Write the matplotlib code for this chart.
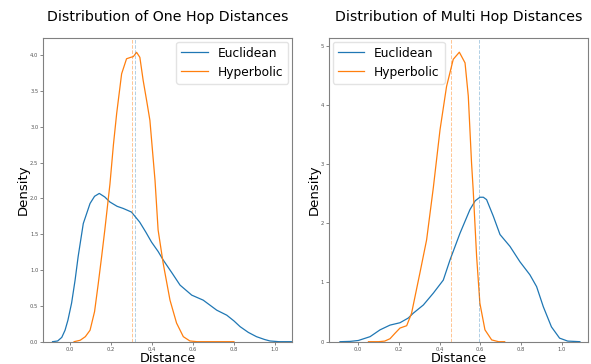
import matplotlib
matplotlib.use("Agg")
import matplotlib.pyplot as plt

# ---- One hop distances (left panel) ----
one_euc_x = [-0.085, -0.06, -0.04, -0.024, -0.01, 0.008, 0.025, 0.04, 0.065, 0.098, 0.12, 0.143,
             0.17, 0.195, 0.23, 0.26, 0.30, 0.34, 0.37, 0.398, 0.43, 0.455, 0.50, 0.537, 0.594,
             0.65, 0.716, 0.765, 0.80, 0.83, 0.87, 0.91, 0.95, 0.976, 1.02, 1.08]
one_euc_y = [0.0, 0.01, 0.06, 0.16, 0.30, 0.54, 0.86, 1.19, 1.65, 1.93, 2.03, 2.07,
             2.02, 1.95, 1.89, 1.86, 1.81, 1.67, 1.53, 1.39, 1.26, 1.14, 0.95, 0.79, 0.65,
             0.58, 0.44, 0.37, 0.29, 0.21, 0.13, 0.07, 0.03, 0.01, 0.0, 0.0]
one_hyp_x = [0.02, 0.05, 0.075, 0.098, 0.12, 0.138, 0.155, 0.17, 0.195, 0.212, 0.228, 0.252, 0.276,
             0.296, 0.309, 0.325, 0.341, 0.357, 0.375, 0.39, 0.415, 0.43, 0.455, 0.488, 0.52,
             0.553, 0.585, 0.62, 0.70, 0.80]
one_hyp_y = [0.0, 0.02, 0.07, 0.16, 0.42, 0.81, 1.20, 1.56, 2.20, 2.75, 3.19, 3.74, 3.95,
             3.97, 3.98, 4.04, 3.97, 3.65, 3.35, 3.09, 2.25, 1.56, 1.09, 0.58, 0.26,
             0.07, 0.01, 0.0, 0.0, 0.0]
one_means = [0.318, 0.304]  # Euclidean, Hyperbolic

# ---- Multi hop distances (right panel) ----
multi_euc_x = [-0.09, -0.04, 0.0, 0.058, 0.107, 0.156, 0.205, 0.246, 0.27, 0.32, 0.369, 0.418,
               0.451, 0.50, 0.549, 0.575, 0.598, 0.615, 0.631, 0.664, 0.697, 0.746, 0.795,
               0.844, 0.877, 0.91, 0.95, 0.99, 1.03, 1.09]
multi_euc_y = [0.0, 0.005, 0.02, 0.085, 0.20, 0.28, 0.32, 0.40, 0.48, 0.62, 0.82, 1.04,
               1.38, 1.83, 2.23, 2.38, 2.44, 2.44, 2.40, 2.12, 1.81, 1.61, 1.35,
               1.13, 0.93, 0.59, 0.25, 0.06, 0.01, 0.0]
multi_hyp_x = [0.05, 0.10, 0.13, 0.156, 0.18, 0.205, 0.238, 0.262, 0.303, 0.336, 0.369, 0.402,
               0.434, 0.467, 0.497, 0.525, 0.541, 0.557, 0.565, 0.582, 0.598, 0.623, 0.656,
               0.69, 0.72]
multi_hyp_y = [0.0, 0.0, 0.01, 0.05, 0.14, 0.23, 0.27, 0.48, 1.16, 1.72, 2.60, 3.58,
               4.31, 4.77, 4.89, 4.71, 4.15, 3.02, 2.57, 1.44, 0.65, 0.20, 0.03,
               0.0, 0.0]
multi_means = [0.595, 0.454]  # Euclidean, Hyperbolic

series_labels = ["Euclidean", "Hyperbolic"]
titles = ["Distribution of One Hop Distances", "Distribution of Multi Hop Distances"]
x_ticks = [0.0, 0.2, 0.4, 0.6, 0.8, 1.0]
left_yticks = [0.0, 0.5, 1.0, 1.5, 2.0, 2.5, 3.0, 3.5, 4.0]
right_yticks = [0, 1, 2, 3, 4, 5]

BLUE = "#1f77b4"
ORANGE = "#ff7f0e"

fig = plt.figure(figsize=(5.91, 3.64), dpi=100)
ax1 = fig.add_axes([0.0733, 0.0613, 0.4207, 0.8343])
ax2 = fig.add_axes([0.5567, 0.0613, 0.4383, 0.8343])

panels = [
    (ax1, one_euc_x, one_euc_y, one_hyp_x, one_hyp_y, one_means, (-0.13, 1.083), (0, 4.24),
     left_yticks, "upper right", titles[0]),
    (ax2, multi_euc_x, multi_euc_y, multi_hyp_x, multi_hyp_y, multi_means, (-0.144, 1.13), (0, 5.13),
     right_yticks, "upper left", titles[1]),
]

for ax, ex, ey, hx, hy, means, xl, yl, yt, loc, title in panels:
    ax.plot(ex, ey, color=BLUE, lw=0.9, label=series_labels[0])
    ax.plot(hx, hy, color=ORANGE, lw=0.9, label=series_labels[1])
    ax.axvline(means[0], color=BLUE, ls="--", lw=0.7, alpha=0.35)
    ax.axvline(means[1], color=ORANGE, ls="--", lw=0.7, alpha=0.45)
    ax.set_xlim(*xl)
    ax.set_ylim(*yl)
    ax.set_xticks(x_ticks)
    ax.set_xticklabels([f"{v:.1f}" for v in x_ticks])
    ax.set_yticks(yt)
    if isinstance(yt[1], float):
        ax.set_yticklabels([f"{v:.1f}" for v in yt])
    ax.tick_params(labelsize=3.8, length=2, width=0.5, colors="#555555", pad=1.5)
    for s in ax.spines.values():
        s.set_color("#808080")
        s.set_linewidth(0.8)
    ax.set_xlabel("Distance", fontsize=9.2, labelpad=0)
    ax.xaxis.set_label_coords(0.5, -0.033)
    ax.xaxis.label.set_va("top")
    ax.set_ylabel("Density", fontsize=9.5, labelpad=0)
    ax.set_title(title, fontsize=10.2, pad=12)
    leg = ax.legend(loc=loc, fontsize=8.8, handlelength=2.2, borderaxespad=0.3, frameon=True)
    leg.get_frame().set_edgecolor("#dddddd")

fig.savefig("out.png", dpi=100)
